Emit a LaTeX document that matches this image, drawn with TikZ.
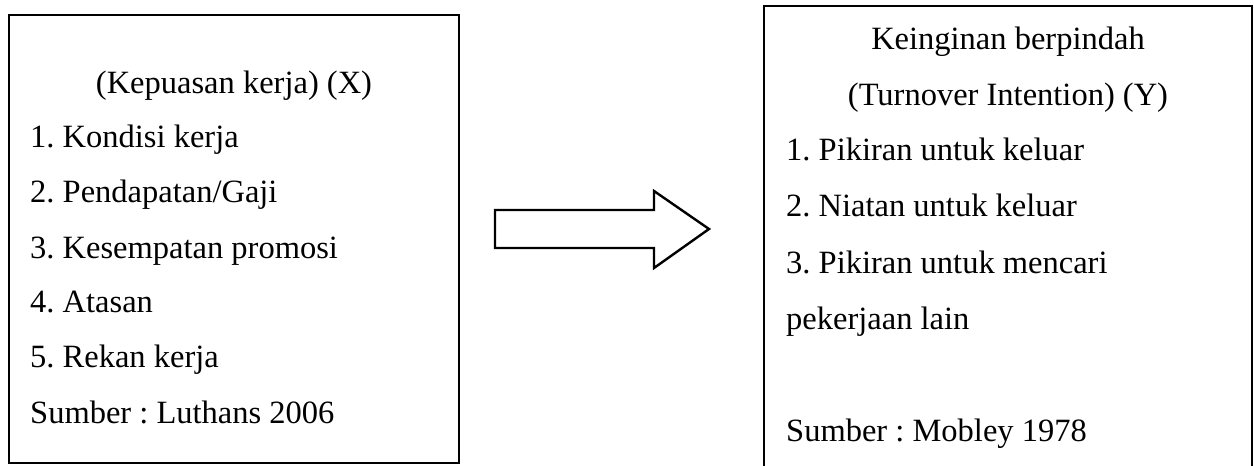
\documentclass[tikz,border=0pt]{standalone}
\usepackage{fontspec}
\setmainfont{Liberation Serif}
\begin{document}
\frenchspacing
\begin{tikzpicture}[x=1pt,y=-1pt,
  frame/.style={line width=2.6pt,draw=black},
  txt/.style={anchor=base west,inner sep=0pt,font=\fontsize{32.5}{32.5}\selectfont},
  head/.style={anchor=base,inner sep=0pt,font=\fontsize{32.5}{32.5}\selectfont}]
\useasboundingbox[fill=white] (0,0) rectangle (1254,466);
% left box
\node[frame,minimum width=450pt,minimum height=448pt,inner sep=0pt] (boxX) at (234,239) {};
\node[head] (hX) at (234,93) {(Kepuasan kerja) (X)};
\node[txt] (x1) at (30,147) {1. Kondisi kerja};
\node[txt] (x2) at (30,202) {2. Pendapatan/Gaji};
\node[txt] (x3) at (30,258) {3. Kesempatan promosi};
\node[txt] (x4) at (30,312) {4. Atasan};
\node[txt] (x5) at (30,367) {5. Rekan kerja};
\node[txt] (xs) at (30,423) {Sumber : Luthans 2006};
% right box (open at bottom, runs off the page)
\coordinate (yBL) at (764,470);
\coordinate (yTL) at (764,6);
\coordinate (yTR) at (1252,6);
\coordinate (yBR) at (1252,470);
\draw[frame,line join=miter] (yBL) -- (yTL) -- (yTR) -- (yBR);
\node[head] (hY1) at (1008,49) {Keinginan berpindah};
\node[head] (hY2) at (1008,105) {(Turnover Intention) (Y)};
\node[txt] (y1) at (786,160) {1. Pikiran untuk keluar};
\node[txt] (y2) at (786,216) {2. Niatan untuk keluar};
\node[txt] (y3) at (786,273) {3. Pikiran untuk mencari};
\node[txt] (y3b) at (786,329) {pekerjaan lain};
\node[txt] (ys) at (786,441) {Sumber : Mobley 1978};
% block arrow
\coordinate (a1) at (495,210);
\coordinate (a2) at (654,210);
\coordinate (a3) at (654,191);
\coordinate (a4) at (709,229);
\coordinate (a5) at (654,268);
\coordinate (a6) at (654,248);
\coordinate (a7) at (495,248);
\draw[line width=2.4pt,line join=miter] (a1) -- (a2) -- (a3) -- (a4) -- (a5) -- (a6) -- (a7) -- cycle;
\end{tikzpicture}
\end{document}
